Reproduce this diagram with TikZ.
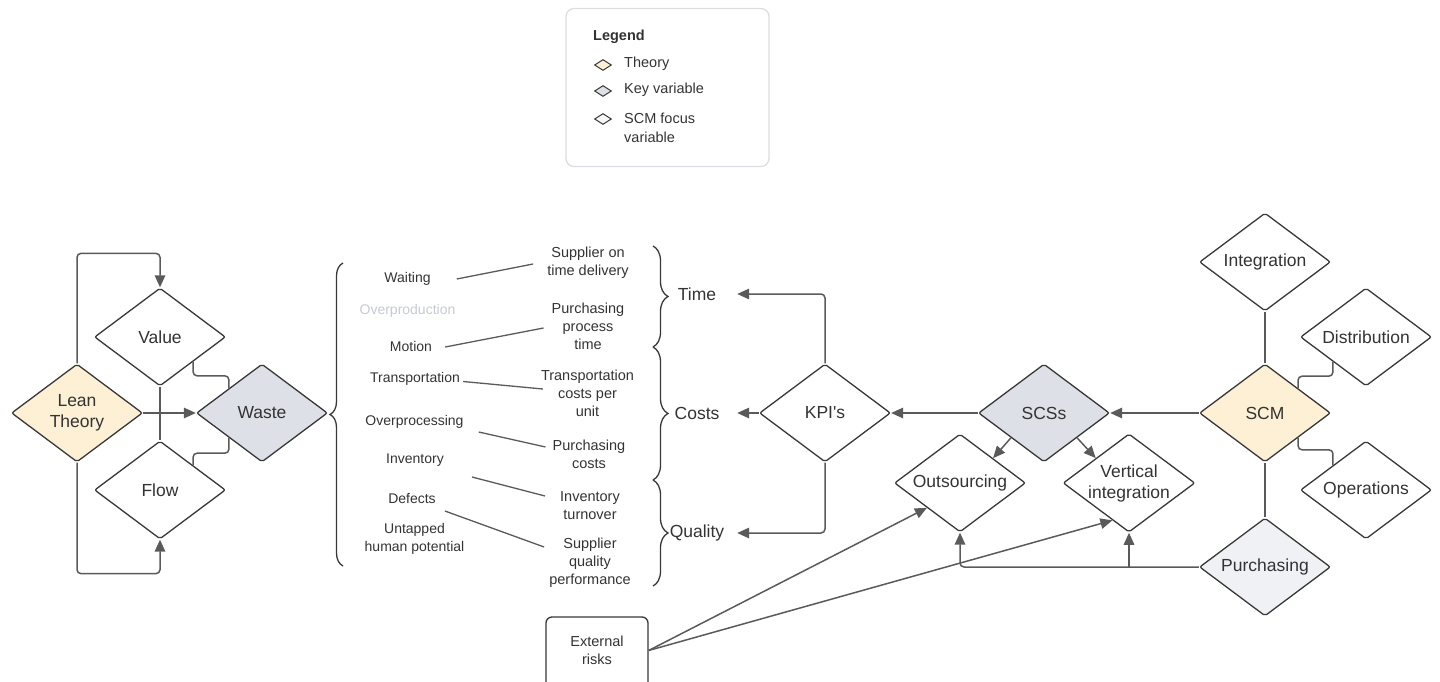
\documentclass[tikz,border=0pt]{standalone}
\usepackage{fontspec}
\setmainfont{Liberation Sans}
\usetikzlibrary{shapes.geometric,arrows.meta,calc,decorations.pathreplacing}
\definecolor{cream}{HTML}{FDF0D5}
\definecolor{keygray}{HTML}{DDE0E6}
\definecolor{focusgray}{HTML}{F0F1F4}
\definecolor{ln}{HTML}{5A5A5A}
\definecolor{dk}{HTML}{383838}
\definecolor{tx}{HTML}{333333}
\definecolor{faint}{HTML}{C5CAD3}
\definecolor{legborder}{HTML}{DADDE2}
\begin{document}
\begin{tikzpicture}[x=1pt,y=-1pt,
  dia/.style={diamond, draw=dk, line width=1.3pt, fill=white, minimum width=131pt,
    minimum height=98pt, inner sep=0pt, shape aspect=1.34, align=center,
    font=\fontsize{17.5}{21}\selectfont, text=tx, rounded corners=2pt},
  theory/.style={dia, fill=cream},
  keyv/.style={dia, fill=keygray},
  focus/.style={dia, fill=focusgray},
  arr/.style={draw=ln, line width=1.5pt, -{Triangle[length=12pt,width=10.5pt]}, rounded corners=4pt},
  conn/.style={draw=ln, line width=1.5pt, rounded corners=4pt},
  wl/.style={font=\fontsize{14}{18}\selectfont, text=tx, align=center, inner sep=0pt},
  cat/.style={font=\fontsize{17.5}{21}\selectfont, text=tx, align=center, inner sep=0pt, text width=80pt},
  link/.style={draw=ln, line width=1.3pt},
  brc/.style={decorate, decoration={brace, amplitude=#1}, draw=dk, line width=1.3pt},
  legt/.style={font=\fontsize{14.5}{19}\selectfont, text=tx, align=left, inner sep=0pt, anchor=west},
  legdia/.style={diamond, draw=dk, line width=1pt, minimum width=17pt, minimum height=11pt, inner sep=0pt},
  extbox/.style={rectangle, rounded corners=6pt, draw=dk, line width=1.3pt, fill=white,
    minimum width=102pt, minimum height=84pt, align=center, inner sep=0pt,
    font=\fontsize{14.5}{18}\selectfont, text=tx},
]
\useasboundingbox (0,0) rectangle (1440,682);
\clip (0,0) rectangle (1440,682);

% Legend
\node[rectangle, rounded corners=8pt, draw=legborder, line width=1.3pt, minimum width=203pt, minimum height=158pt] (legbox) at (667.5,87.5) {};
\node[legt, font=\fontsize{14.5}{19}\selectfont\bfseries] (legtitle) at (593,37) {Legend};
\node[legdia, fill=cream] (ld1) at (603,65) {};
\node[legdia, fill=keygray] (ld2) at (603,91) {};
\node[legdia, fill=focusgray!50] (ld3) at (603,119) {};
\node[legt] (lt1) at (624,64) {Theory};
\node[legt] (lt2) at (624,90) {Key variable};
\node[legt] (lt3) at (624,127.5) {SCM focus\\variable};

% Lean part
\node[theory] (lean) at (77,413) {Lean\\Theory};
\node[dia] (value) at (160,337) {Value};
\node[dia] (flow) at (160,490) {Flow};
\node[keyv] (waste) at (262,413) {Waste};

\draw[arr] (lean.north) -- ++(0,-110) -| (value.north);
\draw[arr] (lean.south) -- ++(0,111) -| (flow.south);
\draw[arr] (lean.east) -- (waste.west);
\draw[conn] (value.south) -- (flow.north);
\draw[conn] (value.south east) -- ++(0,14) -| (waste.north west);
\draw[conn] (flow.north east) -- ++(0,-12) -| (waste.south west);

% Left brace
\draw[brc=13pt] (343,566) -- (343,263);

% Waste list
\node[wl] (waiting) at (407.5,279) {Waiting};
\node[wl, text=faint] (overprod) at (407.5,311) {Overproduction};
\node[wl] (motion) at (411,346.5) {Motion};
\node[wl] (transp) at (415,378.5) {Transportation};
\node[wl] (overproc) at (414.5,421.5) {Overprocessing};
\node[wl] (inventory) at (415,460) {Inventory};
\node[wl] (defects) at (412,498) {Defects};
\node[wl] (untapped) at (414.5,539) {Untapped\\human potential};

% KPI list
\node[wl, font=\fontsize{14.5}{18}\selectfont] (sotd) at (588,263) {Supplier on\\time delivery};
\node[wl, font=\fontsize{14.5}{18}\selectfont] (ppt) at (588,326) {Purchasing\\process\\time};
\node[wl, font=\fontsize{14.5}{18}\selectfont] (tcpu) at (587.5,393) {Transportation\\costs per\\unit};
\node[wl, font=\fontsize{14.5}{18}\selectfont] (pc) at (589,454.5) {Purchasing\\costs};
\node[wl, font=\fontsize{14.5}{18}\selectfont] (it) at (590,505.5) {Inventory\\turnover};
\node[wl, font=\fontsize{14.5}{18}\selectfont] (sqp) at (590,563) {Supplier\\quality\\performance};

\draw[link] ($(waiting.east)+(26,0)$) -- ($(sotd.west)+(-14,1)$);
\draw[link] ($(motion.east)+(13,0.5)$) -- ($(ppt.west)+(-8,2)$);
\draw[link] ($(transp.east)+(3,3)$) -- ($(tcpu.west)+(2,-4)$);
\draw[link] ($(overproc.east)+(15,10.5)$) -- ($(pc.west)+(-7,-7.5)$);
\draw[link] ($(inventory.east)+(28,17)$) -- ($(it.west)+(-15,-9.5)$);
\draw[link] ($(defects.east)+(9,13)$) -- ($(sqp.west)+(-5,-16)$);

% Right braces
\draw[brc=15pt] (653,246) -- (653,347);
\draw[brc=15pt] (653,347) -- (653,480);
\draw[brc=15pt] (653,480) -- (653,586);

% Categories
\node[cat] (time) at (697,294) {Time};
\node[cat] (costs) at (697,413) {Costs};
\node[cat] (quality) at (697,533) {Quality};

% KPI
\node[dia] (kpi) at (825,413) {KPI\textquotesingle s};
\draw[arr] (kpi.north) |- (time.east);
\draw[arr] (kpi.west) -- (costs.east);
\draw[arr] (kpi.south) |- (quality.east);

% SCM part
\node[keyv] (scs) at (1044,413) {SCSs};
\node[theory] (scm) at (1265,413) {SCM};
\node[dia] (outs) at (960,483) {Outsourcing};
\node[dia] (vert) at (1129,483) {Vertical\\integration};
\node[focus] (purch) at (1265,567) {Purchasing};
\node[dia] (integ) at (1265,262) {Integration};
\node[dia] (dist) at (1366,337) {Distribution};
\node[dia] (ops) at (1366,490) {Operations};

\draw[arr] (scs.west) -- (kpi.east);
\draw[arr] (scm.west) -- (scs.east);
\draw[arr] (scs.south west) -- (outs.north east);
\draw[arr] (scs.south east) -- (vert.north west);
\draw[conn] (integ.south) -- (scm.north);
\draw[conn] (scm.south) -- (purch.north);
\draw[conn] (scm.north east) -- ++(0,-12) -| (dist.south west);
\draw[conn] (scm.south east) -- ++(0,12) -| (ops.north west);
\draw[arr] (purch.west) -| (outs.south);
\draw[arr] (purch.west -| vert.south) -- (vert.south);

% External risks (box runs past the bottom edge)
\node[extbox] (ext) at (597,659) {External\\risks\\\mbox{}};
\draw[arr] ($(ext.north east)!0.4!(ext.south east)$) -- (outs.south west);
\draw[arr] ($(ext.north east)!0.4!(ext.south east)$) -- ($(vert.west)!0.75!(vert.south)$);
\end{tikzpicture}
\end{document}
